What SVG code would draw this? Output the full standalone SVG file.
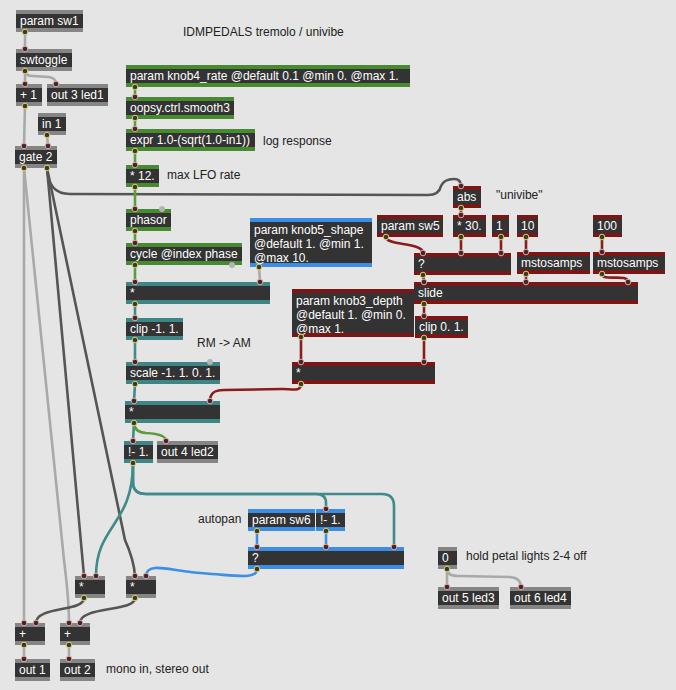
<svg xmlns="http://www.w3.org/2000/svg" width="676" height="690" viewBox="0 0 676 690">
<style>
.bg{fill:#e5e5e5}
.body{fill:#333333}
.gy{fill:#858585}.gn{fill:#468b30}.tl{fill:#3e8585}.rd{fill:#7b1616}.bl{fill:#3a8ee6}
.t{font-family:"Liberation Sans",Arial,sans-serif;font-size:12px;fill:#ffffff}
.lb{font-family:"Liberation Sans",Arial,sans-serif;font-size:12px;fill:#222222}
.c{fill:none;stroke-width:2.6;stroke-linecap:round}
.cg{stroke:#a9a9a9}.cd{stroke:#555555}.cgn{stroke:#5a9e3c}.ctl{stroke:#408a8a}.crd{stroke:#8a1c1c}.cbl{stroke:#3c8fe8}
.pi{fill:#3a2a2a;stroke:#e3a4a4;stroke-width:1}
.po{fill:#3a3a2a;stroke:#d8cf72;stroke-width:1}
.pu{fill:#b4b4b4}
</style>
<rect class="bg" x="0" y="0" width="676" height="690"/>
<text class="lb" x="183" y="36">IDMPEDALS tremolo / univibe</text>
<text class="lb" x="263" y="145">log response</text>
<text class="lb" x="167" y="179">max LFO rate</text>
<text class="lb" x="496" y="199">"univibe"</text>
<text class="lb" x="197" y="347">RM -&gt; AM</text>
<text class="lb" x="198" y="523">autopan</text>
<text class="lb" x="466" y="560">hold petal lights 2-4 off</text>
<text class="lb" x="106" y="673">mono in, stereo out</text>

<g id="connectors">
<path class="c cg" d="M25,32 L25,49"/>
<path class="c cg" d="M25,71 L25,84"/>
<path class="c cg" d="M25,71 Q25,76 33,76 L49,77 Q56,78 56,84"/>
<path class="c cg" d="M25,106 L24,146"/>
<path class="c cg" d="M47,135 L48,146"/>
<path class="c cg" d="M24,168 L24,623"/>
<path class="c cg" d="M24,168 L64,560 Q69,600 69,623"/>
<path class="c cd" d="M47,168 L84,576"/>
<path class="c cd" d="M47,168 L125,540 Q134,560 135,576"/>
<path class="c cd" d="M47,168 Q48,194 70,194 L428,195 Q439,195 441,186 Q444,179 454,179 Q461,179 461,186"/>
<path class="c cgn" d="M135,87 L135,97"/>
<path class="c cgn" d="M135,118 L135,129"/>
<path class="c cgn" d="M135,151 L135,165"/>
<path class="c cgn" d="M135,187 L135,209"/>
<path class="c cgn" d="M135,231 L135,243"/>
<path class="c cgn" d="M135,265 L135,282"/>
<path class="c cg" d="M259,267 L260,282"/>
<path class="c ctl" d="M135,304 L135,318"/>
<path class="c ctl" d="M135,340 L135,362"/>
<path class="c ctl" d="M135,384 L134,401"/>
<path class="c ctl" d="M134,423 L133,441"/>
<path class="c cgn" d="M134,423 Q134,432 146,433 Q166,434 166,441"/>
<path class="c crd" d="M301,384 C301,392 292,389 282,389 L224,390 C212,390 210,395 210,401"/>
<path class="c ctl" d="M133,463 C133,525 96,525 96,576"/>
<path class="c ctl" d="M133,463 L133,482 Q133,494 146,494 L316,494 Q326,494 326,503 L326,509"/>
<path class="c ctl" d="M133,463 L133,482 Q133,494 146,494 L382,494 Q394,494 394,506 L394,547"/>
<path class="c cbl" d="M257,531 L257,547"/>
<path class="c cbl" d="M326,531 L326,547"/>
<path class="c cbl" d="M257,569 C257,579 240,576 212,574 C180,572 165,567 155,568 Q146,569 146,576"/>
<path class="c cd" d="M84,598 C84,612 36,606 36,623"/>
<path class="c cd" d="M135,598 C135,612 80,606 80,623"/>
<path class="c cg" d="M24,645 L24,659"/>
<path class="c cg" d="M69,645 L69,659"/>
<path class="c crd" d="M461,208 L461,215"/>
<path class="c crd" d="M386,237 C386,246 423,242 423,253"/>
<path class="c crd" d="M461,237 L461,253"/>
<path class="c crd" d="M501,237 L501,253"/>
<path class="c crd" d="M526,237 L526,252"/>
<path class="c crd" d="M602,237 L602,252"/>
<path class="c crd" d="M423,274 L424,282"/>
<path class="c crd" d="M526,274 L526,282"/>
<path class="c crd" d="M602,274 C602,282 628,273 628,282"/>
<path class="c crd" d="M424,304 L424,316"/>
<path class="c crd" d="M424,338 L424,362"/>
<path class="c crd" d="M301,337 L301,362"/>
<path class="c cg" d="M447,569 L447,587"/>
<path class="c cg" d="M447,569 Q447,576 458,576 L510,577 Q521,578 521,587"/>
</g>

<g id="param_sw1"><rect class="gy" x="16" y="10" width="67" height="22"/><rect class="body" x="16" y="14" width="67" height="14"/><text class="t" x="20" y="25">param sw1</text></g>
<g id="swtoggle"><rect class="gy" x="16" y="49" width="56" height="22"/><rect class="body" x="16" y="53" width="56" height="14"/><text class="t" x="20" y="64">swtoggle</text></g>
<g id="plus1"><rect class="gy" x="16" y="84" width="26" height="22"/><rect class="body" x="16" y="88" width="26" height="14"/><text class="t" x="20" y="99">+ 1</text></g>
<g id="out3"><rect class="gy" x="47" y="84" width="61" height="22"/><rect class="body" x="47" y="88" width="61" height="14"/><text class="t" x="51" y="99">out 3 led1</text></g>
<g id="in1"><rect class="gy" x="38" y="113" width="28" height="22"/><rect class="body" x="38" y="117" width="28" height="14"/><text class="t" x="42" y="128">in 1</text></g>
<g id="gate2"><rect class="gy" x="15" y="146" width="42" height="22"/><rect class="body" x="15" y="150" width="42" height="14"/><text class="t" x="19" y="161">gate 2</text></g>

<g id="knob4"><rect class="gn" x="126" y="65" width="284" height="22"/><rect class="body" x="126" y="69" width="284" height="14"/><text class="t" x="130" y="80">param knob4_rate @default 0.1 @min 0. @max 1.</text></g>
<g id="smooth"><rect class="gn" x="126" y="97" width="108" height="22"/><rect class="body" x="126" y="101" width="108" height="14"/><text class="t" x="130" y="112">oopsy.ctrl.smooth3</text></g>
<g id="expr"><rect class="gn" x="126" y="129" width="129" height="22"/><rect class="body" x="126" y="133" width="129" height="14"/><text class="t" x="130" y="144">expr 1.0-(sqrt(1.0-in1))</text></g>
<g id="mul12"><rect class="gn" x="126" y="165" width="33" height="22"/><rect class="body" x="126" y="169" width="33" height="14"/><text class="t" x="130" y="180">* 12.</text></g>
<g id="phasor"><rect class="gn" x="126" y="209" width="45" height="22"/><rect class="body" x="126" y="213" width="45" height="14"/><text class="t" x="130" y="224">phasor</text></g>
<g id="cycle"><rect class="gn" x="126" y="243" width="116" height="22"/><rect class="body" x="126" y="247" width="116" height="14"/><text class="t" x="130" y="258">cycle @index phase</text></g>
<g id="mulshape"><rect class="tl" x="126" y="282" width="144" height="22"/><rect class="body" x="126" y="286" width="144" height="14"/><text class="t" x="130" y="297">*</text></g>
<g id="knob5"><rect class="bl" x="250" y="218" width="122" height="49"/><rect class="body" x="250" y="222" width="122" height="41"/><text class="t" x="254" y="234">param knob5_shape</text><text class="t" x="254" y="248">@default 1. @min 1.</text><text class="t" x="254" y="262">@max 10.</text></g>
<g id="clipm1"><rect class="tl" x="126" y="318" width="57" height="22"/><rect class="body" x="126" y="322" width="57" height="14"/><text class="t" x="130" y="333">clip -1. 1.</text></g>
<g id="scale"><rect class="tl" x="126" y="362" width="94" height="22"/><rect class="body" x="126" y="366" width="94" height="14"/><text class="t" x="130" y="377">scale -1. 1. 0. 1.</text></g>
<g id="muldepth"><rect class="tl" x="125" y="401" width="95" height="22"/><rect class="body" x="125" y="405" width="95" height="14"/><text class="t" x="129" y="416">*</text></g>
<g id="not1"><rect class="tl" x="124" y="441" width="29" height="22"/><rect class="body" x="124" y="445" width="29" height="14"/><text class="t" x="128" y="456">!- 1.</text></g>
<g id="out4"><rect class="gy" x="157" y="441" width="61" height="22"/><rect class="body" x="157" y="445" width="61" height="14"/><text class="t" x="161" y="456">out 4 led2</text></g>

<g id="abs"><rect class="rd" x="453" y="186" width="28" height="22"/><rect class="body" x="453" y="190" width="28" height="14"/><text class="t" x="457" y="201">abs</text></g>
<g id="param_sw5"><rect class="rd" x="377" y="215" width="66" height="22"/><rect class="body" x="377" y="219" width="66" height="14"/><text class="t" x="381" y="230">param sw5</text></g>
<g id="mul30"><rect class="rd" x="453" y="215" width="33" height="22"/><rect class="body" x="453" y="219" width="33" height="14"/><text class="t" x="457" y="230">* 30.</text></g>
<g id="one"><rect class="rd" x="492" y="215" width="17" height="22"/><rect class="body" x="492" y="219" width="17" height="14"/><text class="t" x="496" y="230">1</text></g>
<g id="ten"><rect class="rd" x="517" y="215" width="21" height="22"/><rect class="body" x="517" y="219" width="21" height="14"/><text class="t" x="521" y="230">10</text></g>
<g id="hundred"><rect class="rd" x="593" y="215" width="29" height="22"/><rect class="body" x="593" y="219" width="29" height="14"/><text class="t" x="597" y="230">100</text></g>
<g id="selred"><rect class="rd" x="414" y="253" width="97" height="22"/><rect class="body" x="414" y="257" width="97" height="14"/><text class="t" x="418" y="268">?</text></g>
<g id="msto1"><rect class="rd" x="517" y="252" width="73" height="22"/><rect class="body" x="517" y="256" width="73" height="14"/><text class="t" x="521" y="267">mstosamps</text></g>
<g id="msto2"><rect class="rd" x="593" y="252" width="72" height="22"/><rect class="body" x="593" y="256" width="72" height="14"/><text class="t" x="597" y="267">mstosamps</text></g>
<g id="slide"><rect class="rd" x="414" y="282" width="224" height="22"/><rect class="body" x="414" y="286" width="224" height="14"/><text class="t" x="418" y="297">slide</text></g>
<g id="clip01"><rect class="rd" x="415" y="316" width="53" height="22"/><rect class="body" x="415" y="320" width="53" height="14"/><text class="t" x="419" y="331">clip 0. 1.</text></g>
<g id="knob3"><rect class="rd" x="292" y="289" width="122" height="48"/><rect class="body" x="292" y="293" width="122" height="40"/><text class="t" x="296" y="305">param knob3_depth</text><text class="t" x="296" y="319">@default 1. @min 0.</text><text class="t" x="296" y="333">@max 1.</text></g>
<g id="mulred"><rect class="rd" x="292" y="362" width="143" height="22"/><rect class="body" x="292" y="366" width="143" height="14"/><text class="t" x="296" y="377">*</text></g>

<g id="param_sw6"><rect class="bl" x="248" y="509" width="67" height="22"/><rect class="body" x="248" y="513" width="67" height="14"/><text class="t" x="252" y="524">param sw6</text></g>
<g id="not1b"><rect class="bl" x="316" y="509" width="29" height="22"/><rect class="body" x="316" y="513" width="29" height="14"/><text class="t" x="320" y="524">!- 1.</text></g>
<g id="selblue"><rect class="bl" x="248" y="547" width="156" height="22"/><rect class="body" x="248" y="551" width="156" height="14"/><text class="t" x="252" y="562">?</text></g>

<g id="mulL"><rect class="gy" x="75" y="576" width="30" height="22"/><rect class="body" x="75" y="580" width="30" height="14"/><text class="t" x="79" y="591">*</text></g>
<g id="mulR"><rect class="gy" x="126" y="576" width="30" height="22"/><rect class="body" x="126" y="580" width="30" height="14"/><text class="t" x="130" y="591">*</text></g>
<g id="addL"><rect class="gy" x="15" y="623" width="30" height="22"/><rect class="body" x="15" y="627" width="30" height="14"/><text class="t" x="19" y="638">+</text></g>
<g id="addR"><rect class="gy" x="60" y="623" width="30" height="22"/><rect class="body" x="60" y="627" width="30" height="14"/><text class="t" x="64" y="638">+</text></g>
<g id="out1"><rect class="gy" x="15" y="659" width="35" height="22"/><rect class="body" x="15" y="663" width="35" height="14"/><text class="t" x="19" y="674">out 1</text></g>
<g id="out2"><rect class="gy" x="60" y="659" width="35" height="22"/><rect class="body" x="60" y="663" width="35" height="14"/><text class="t" x="64" y="674">out 2</text></g>
<g id="zero"><rect class="gy" x="438" y="547" width="19" height="22"/><rect class="body" x="438" y="551" width="19" height="14"/><text class="t" x="442" y="562">0</text></g>
<g id="out5"><rect class="gy" x="438" y="587" width="61" height="22"/><rect class="body" x="438" y="591" width="61" height="14"/><text class="t" x="442" y="602">out 5 led3</text></g>
<g id="out6"><rect class="gy" x="510" y="587" width="61" height="22"/><rect class="body" x="510" y="591" width="61" height="14"/><text class="t" x="514" y="602">out 6 led4</text></g>

<g id="ports">
<circle class="po" cx="25" cy="32" r="2.8"/><circle class="pi" cx="25" cy="49" r="2.8"/><circle class="po" cx="25" cy="71" r="2.8"/>
<circle class="pi" cx="25" cy="84" r="2.8"/><circle class="pi" cx="56" cy="84" r="2.8"/><circle class="po" cx="25" cy="106" r="2.8"/>
<circle class="po" cx="47" cy="135" r="2.8"/><circle class="pi" cx="24" cy="146" r="2.8"/><circle class="pi" cx="48" cy="146" r="2.8"/>
<circle class="po" cx="24" cy="168" r="2.8"/><circle class="po" cx="47" cy="168" r="2.8"/>
<circle class="po" cx="135" cy="87" r="2.8"/><circle class="pi" cx="135" cy="97" r="2.8"/><circle class="po" cx="135" cy="118" r="2.8"/>
<circle class="pi" cx="135" cy="129" r="2.8"/><circle class="po" cx="135" cy="151" r="2.8"/><circle class="pi" cx="135" cy="165" r="2.8"/>
<circle class="po" cx="135" cy="187" r="2.8"/><circle class="pi" cx="135" cy="209" r="2.8"/><circle class="pu" cx="162" cy="209" r="3"/>
<circle class="po" cx="135" cy="231" r="2.8"/><circle class="pi" cx="135" cy="243" r="2.8"/><circle class="po" cx="135" cy="265" r="2.8"/><circle class="pu" cx="232" cy="265" r="3"/>
<circle class="pi" cx="135" cy="282" r="2.8"/><circle class="pi" cx="260" cy="282" r="2.8"/><circle class="po" cx="259" cy="267" r="2.8"/>
<circle class="po" cx="135" cy="304" r="2.8"/><circle class="pi" cx="135" cy="318" r="2.8"/><circle class="po" cx="135" cy="340" r="2.8"/>
<circle class="pi" cx="135" cy="362" r="2.8"/><circle class="pu" cx="210" cy="362" r="3"/><circle class="po" cx="135" cy="384" r="2.8"/>
<circle class="pi" cx="134" cy="401" r="2.8"/><circle class="pi" cx="210" cy="401" r="2.8"/><circle class="po" cx="134" cy="423" r="2.8"/>
<circle class="pi" cx="133" cy="441" r="2.8"/><circle class="pi" cx="166" cy="441" r="2.8"/><circle class="po" cx="133" cy="463" r="2.8"/>
<circle class="pi" cx="461" cy="186" r="2.8"/><circle class="po" cx="461" cy="208" r="2.8"/><circle class="pi" cx="461" cy="215" r="2.8"/><circle class="po" cx="461" cy="237" r="2.8"/>
<circle class="po" cx="386" cy="237" r="2.8"/><circle class="po" cx="501" cy="237" r="2.8"/><circle class="po" cx="526" cy="237" r="2.8"/><circle class="po" cx="602" cy="237" r="2.8"/>
<circle class="pi" cx="423" cy="253" r="2.8"/><circle class="pi" cx="461" cy="253" r="2.8"/><circle class="pi" cx="501" cy="253" r="2.8"/><circle class="po" cx="423" cy="275" r="2.8"/>
<circle class="pi" cx="526" cy="252" r="2.8"/><circle class="po" cx="526" cy="274" r="2.8"/><circle class="pi" cx="602" cy="252" r="2.8"/><circle class="po" cx="602" cy="274" r="2.8"/>
<circle class="pi" cx="424" cy="282" r="2.8"/><circle class="pi" cx="526" cy="282" r="2.8"/><circle class="pi" cx="628" cy="282" r="2.8"/><circle class="po" cx="424" cy="304" r="2.8"/>
<circle class="pi" cx="424" cy="316" r="2.8"/><circle class="po" cx="424" cy="338" r="2.8"/><circle class="po" cx="301" cy="337" r="2.8"/>
<circle class="pi" cx="301" cy="362" r="2.8"/><circle class="pi" cx="424" cy="362" r="2.8"/><circle class="po" cx="301" cy="384" r="2.8"/>
<circle class="pi" cx="326" cy="509" r="2.8"/><circle class="po" cx="257" cy="531" r="2.8"/><circle class="po" cx="326" cy="531" r="2.8"/>
<circle class="pi" cx="257" cy="547" r="2.8"/><circle class="pi" cx="326" cy="547" r="2.8"/><circle class="pi" cx="394" cy="547" r="2.8"/><circle class="po" cx="257" cy="569" r="2.8"/>
<circle class="pi" cx="84" cy="576" r="2.8"/><circle class="pi" cx="96" cy="576" r="2.8"/><circle class="po" cx="84" cy="598" r="2.8"/>
<circle class="pi" cx="135" cy="576" r="2.8"/><circle class="pi" cx="146" cy="576" r="2.8"/><circle class="po" cx="135" cy="598" r="2.8"/>
<circle class="pi" cx="24" cy="623" r="2.8"/><circle class="pi" cx="36" cy="623" r="2.8"/><circle class="po" cx="24" cy="645" r="2.8"/>
<circle class="pi" cx="69" cy="623" r="2.8"/><circle class="pi" cx="80" cy="623" r="2.8"/><circle class="po" cx="69" cy="645" r="2.8"/>
<circle class="pi" cx="24" cy="659" r="2.8"/><circle class="pi" cx="69" cy="659" r="2.8"/>
<circle class="po" cx="447" cy="569" r="2.8"/><circle class="pi" cx="447" cy="587" r="2.8"/><circle class="pi" cx="521" cy="587" r="2.8"/>
</g>
</svg>
